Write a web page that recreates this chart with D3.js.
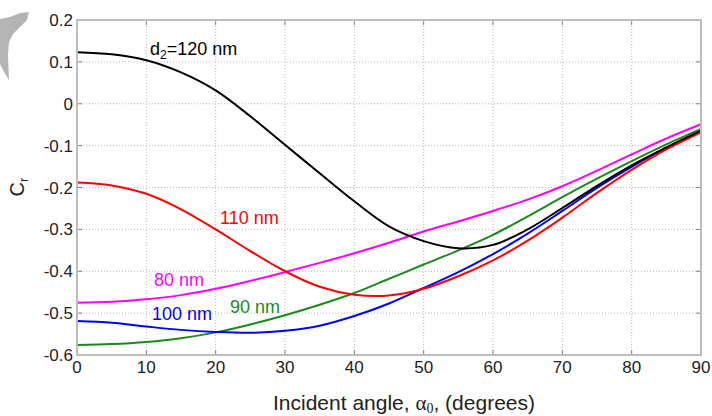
<!DOCTYPE html>
<html>
<head>
<meta charset="utf-8">
<script src="https://cdn.jsdelivr.net/npm/d3@7"></script>
<style>
  html, body { margin: 0; padding: 0; background: #fff; }
  svg { display: block; }
</style>
</head>
<body>
<div id="chart"></div>
<script>
const angles = [0, 5, 10, 15, 20, 25, 30, 35, 40, 45, 50, 55, 60, 65, 70, 75, 80, 85, 90];

const cr80 = [-0.475, -0.473, -0.467, -0.457, -0.442, -0.423, -0.402, -0.38, -0.357, -0.332, -0.305, -0.281, -0.256, -0.229, -0.197, -0.16, -0.121, -0.083, -0.049];
const cr90 = [-0.576, -0.574, -0.569, -0.56, -0.546, -0.527, -0.505, -0.48, -0.452, -0.418, -0.384, -0.35, -0.313, -0.269, -0.223, -0.179, -0.137, -0.097, -0.06];
const cr100 = [-0.519, -0.523, -0.532, -0.54, -0.545, -0.547, -0.542, -0.53, -0.507, -0.477, -0.44, -0.402, -0.359, -0.31, -0.256, -0.201, -0.151, -0.105, -0.066];
const cr110 = [-0.188, -0.195, -0.215, -0.252, -0.3, -0.352, -0.4, -0.437, -0.456, -0.458, -0.442, -0.412, -0.374, -0.327, -0.272, -0.213, -0.158, -0.109, -0.068];
const cr120 = [0.123, 0.118, 0.104, 0.075, 0.032, -0.03, -0.098, -0.166, -0.233, -0.293, -0.328, -0.345, -0.337, -0.3, -0.249, -0.196, -0.147, -0.104, -0.064];

const xTicks = [0, 10, 20, 30, 40, 50, 60, 70, 80, 90];
const yTicks = [0.2, 0.1, 0, -0.1, -0.2, -0.3, -0.4, -0.5, -0.6];

const series = [
  { name: "80 nm", values: cr80, color: "#ff00ff", lx: 154, ly: 286 },
  { name: "90 nm", values: cr90, color: "#1a8a1a", lx: 230, ly: 313 },
  { name: "100 nm", values: cr100, color: "#0000ff", lx: 152, ly: 320 },
  { name: "110 nm", values: cr110, color: "#ff0000", lx: 220, ly: 224 },
  { name: "120 nm", values: cr120, color: "#000000", lx: 150, ly: 55 }
];

const W = 712, H = 416;
const margin = { top: 20, right: 11, bottom: 61, left: 77 };
const width = W - margin.left - margin.right;
const height = H - margin.top - margin.bottom;
const font = "'Liberation Sans', Arial, Helvetica, sans-serif";
const serif = "'Liberation Serif', 'Times New Roman', serif";

const svgEl = d3.select("#chart").append("svg")
  .attr("width", W).attr("height", H)
  .style("font-family", font);

// grey mark in the top-left corner
svgEl.append("path")
  .attr("d", "M0,19 L10,17 L20,13 L29,12 L27,20 L20,27 L13,34 L9,42 L8,55 L9,80 L4,72 L0,64 Z")
  .attr("fill", "#b4b4b4");

const svg = svgEl.append("g").attr("transform", `translate(${margin.left},${margin.top})`);

const x = d3.scaleLinear().domain([0, 90]).range([0, width]);
const y = d3.scaleLinear().domain([-0.6, 0.2]).range([height, 0]);

// dotted grid
svg.append("g").selectAll("line").data(xTicks.slice(1, -1)).join("line")
  .attr("x1", d => x(d)).attr("x2", d => x(d))
  .attr("y1", 0).attr("y2", height)
  .attr("stroke", "#b8b8b8").attr("stroke-width", 1).attr("stroke-dasharray", "1 2");
svg.append("g").selectAll("line").data(yTicks.slice(1, -1)).join("line")
  .attr("x1", 0).attr("x2", width)
  .attr("y1", d => y(d)).attr("y2", d => y(d))
  .attr("stroke", "#b8b8b8").attr("stroke-width", 1).attr("stroke-dasharray", "1 2");

// inward ticks on all sides
const tk = 5;
svg.append("g").selectAll("line").data(xTicks).join("line")
  .attr("x1", d => x(d)).attr("x2", d => x(d)).attr("y1", height).attr("y2", height - tk)
  .attr("stroke", "#808080");
svg.append("g").selectAll("line").data(xTicks).join("line")
  .attr("x1", d => x(d)).attr("x2", d => x(d)).attr("y1", 0).attr("y2", tk)
  .attr("stroke", "#808080");
svg.append("g").selectAll("line").data(yTicks).join("line")
  .attr("x1", 0).attr("x2", tk).attr("y1", d => y(d)).attr("y2", d => y(d))
  .attr("stroke", "#808080");
svg.append("g").selectAll("line").data(yTicks).join("line")
  .attr("x1", width).attr("x2", width - tk).attr("y1", d => y(d)).attr("y2", d => y(d))
  .attr("stroke", "#808080");

// curves
const line = d3.line()
  .x((d, i) => x(angles[i]))
  .y(d => y(d))
  .curve(d3.curveCatmullRom);

svg.append("g").selectAll("path").data(series).join("path")
  .attr("fill", "none")
  .attr("stroke", d => d.color)
  .attr("stroke-width", 2)
  .attr("d", d => line(d.values));

// frame
svg.append("rect")
  .attr("x", 0).attr("y", 0).attr("width", width).attr("height", height)
  .attr("fill", "none").attr("stroke", "#bdbdbd").attr("stroke-width", 2);

// tick labels (plain hyphen, as in the original)
svg.append("g").selectAll("text").data(xTicks).join("text")
  .attr("x", d => x(d)).attr("y", height + 18)
  .attr("text-anchor", "middle")
  .attr("font-size", "17px").attr("fill", "#222")
  .text(d => String(d));
svg.append("g").selectAll("text").data(yTicks).join("text")
  .attr("x", -4).attr("y", d => y(d) + 6)
  .attr("text-anchor", "end")
  .attr("font-size", "17px").attr("fill", "#222")
  .text(d => String(d));

// axis titles
const xt = svgEl.append("text")
  .attr("x", 404).attr("y", 410)
  .attr("text-anchor", "middle")
  .attr("font-size", "21px").attr("fill", "#222");
xt.append("tspan").text("Incident angle, ");
xt.append("tspan").attr("font-family", serif).text("α");
xt.append("tspan").attr("font-family", serif)
  .attr("font-size", "14px").attr("dy", 3).text("0");
xt.append("tspan").attr("dy", -3).text(", (degrees)");

const yt = svgEl.append("text")
  .attr("transform", "translate(24,187) rotate(-90)")
  .attr("text-anchor", "middle")
  .attr("font-size", "20px").attr("fill", "#222");
yt.append("tspan").text("C");
yt.append("tspan").attr("font-size", "13px").attr("dy", 4).text("r");

// curve labels
series.forEach(s => {
  const t = svgEl.append("text")
    .attr("x", s.lx).attr("y", s.ly)
    .attr("font-size", "18px").attr("fill", s.color);
  if (s.name === "120 nm") {
    t.append("tspan").text("d");
    t.append("tspan").attr("font-size", "12px").attr("dy", 4).text("2");
    t.append("tspan").attr("dy", -4).text("=120 nm");
  } else {
    t.text(s.name);
  }
});
</script>
</body>
</html>
